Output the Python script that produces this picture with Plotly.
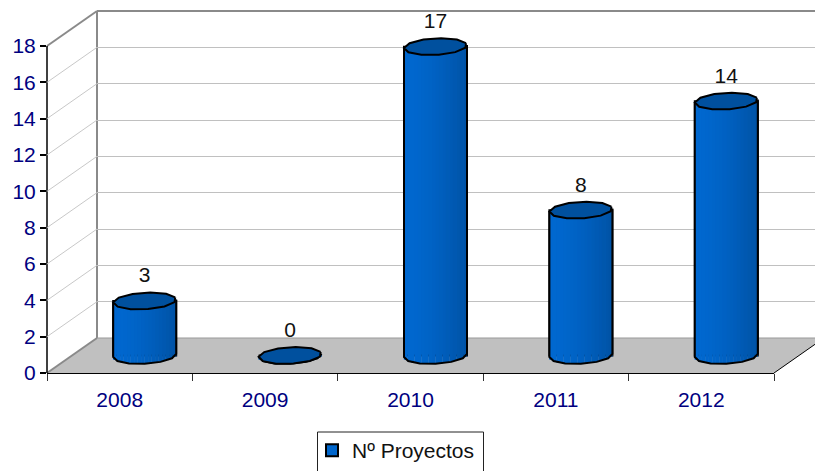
import math
import plotly.graph_objects as go

# ---- data ----
years = ["2008", "2009", "2010", "2011", "2012"]
proyectos = [3, 0, 17, 8, 14]
y_ticks = [0, 2, 4, 6, 8, 10, 12, 14, 16, 18]
series_name = "Nº Proyectos"

# ---- layout helpers ----
W, H = 815, 471
X0, X1, Y0, Y1 = 47, 774, 373, 46      # front plane (px)
DX, DY = 50, 35                         # wall depth (px)
px = lambda v: v / W
py = lambda v: (H - v) / H
unit_x = (X1 - X0) / len(years)
unit_y = (Y0 - Y1) / 18
pos = list(range(len(years)))
Y_HEAD = 20                             # headroom so caps and labels above 18 still draw

shift_x = 25 / unit_x                   # bar axis sits mid-depth
base_y = 17.5 / unit_y
half_w = 31.5 / unit_x
half_h = 8.3 / unit_y
tilt = 1.6 / unit_y
label_gap = 5 / unit_y

fig = go.Figure()

# back wall grid: empty trace on its own axes
fig.add_trace(go.Scatter(x=[None], y=[None], xaxis="x", yaxis="y", showlegend=False, hoverinfo="skip"))

# main bar (carries the legend entry)
fig.add_trace(go.Bar(
    x=[p + shift_x for p in pos], y=proyectos, base=[base_y] * len(pos),
    width=2 * half_w, name=series_name, xaxis="x2", yaxis="y2", cliponaxis=False,
    marker=dict(color="#0066CC", line=dict(color="#000000", width=2)),
    showlegend=True,
))

# cylinder shading: vertical strips
N = 18
for i in range(N):
    u = -1 + (2 * i + 1) / N
    t = (i + 0.5) / N
    g = round(104 - 22 * t ** 1.6)
    b = round(208 - 44 * t ** 1.6)
    arc = half_h * math.sqrt(max(0, 1 - u * u))
    lift = tilt * u
    bases = [base_y - arc + lift for _ in pos]
    fig.add_trace(go.Bar(
        x=[p + shift_x + u * half_w for p in pos],
        y=[v + arc for v in proyectos], base=bases,
        width=2 * half_w / N * 1.08, xaxis="x2", yaxis="y2", cliponaxis=False,
        marker=dict(color=f"rgb(0,{g},{b})", line=dict(width=0)),
        showlegend=False, hoverinfo="skip",
    ))

# outlines and caps
K = 11
angles = [2 * math.pi * k / K + 0.25 for k in range(K + 1)]
for p, v in zip(pos, proyectos):
    cx = p + shift_x
    cy = v + base_y
    lower = [math.pi + math.pi * k / 6 for k in range(7)]
    sx = [cx - half_w] + [cx + half_w * math.cos(a) for a in lower] + [cx + half_w]
    sy = [cy - tilt] + [base_y + half_h * math.sin(a) + tilt * math.cos(a) for a in lower] + [cy + tilt]
    fig.add_trace(go.Scatter(
        x=sx, y=sy, mode="lines", xaxis="x2", yaxis="y2", cliponaxis=False,
        line=dict(color="#000000", width=2), showlegend=False, hoverinfo="skip",
    ))
    fig.add_trace(go.Scatter(
        x=[cx + half_w * math.cos(a) for a in angles],
        y=[cy + half_h * math.sin(a) + tilt * math.cos(a) for a in angles],
        mode="lines", fill="toself", fillcolor="#00509E", xaxis="x2", yaxis="y2", cliponaxis=False,
        line=dict(color="#000000", width=2), showlegend=False, hoverinfo="skip",
    ))

# value labels
fig.add_trace(go.Scatter(
    x=[p + shift_x for p in pos], y=[v + base_y + half_h + label_gap for v in proyectos],
    mode="text", text=[str(v) for v in proyectos], textposition="top center",
    textfont=dict(family="Liberation Sans", size=21, color="#111111"),
    xaxis="x2", yaxis="y2", cliponaxis=False, showlegend=False, hoverinfo="skip",
))

GREY = "#8a8a8a"
def seg(x0, y0, x1, y1, color=GREY, width=2):
    return dict(type="line", xref="paper", yref="paper", x0=px(x0), y0=py(y0), x1=px(x1), y1=py(y1),
                line=dict(color=color, width=width), layer="below")

shapes = [
    dict(type="path", xref="paper", yref="paper", layer="below", fillcolor="#C0C0C0",
         line=dict(width=0),
         path=f"M {px(X0)} {py(Y0)} L {px(X0 + DX)} {py(Y0 - DY)} L {px(X1 + DX)} {py(Y0 - DY)} L {px(X1)} {py(Y0)} Z"),
    seg(X0 + DX, Y1 - DY, X0 + DX, Y0 - DY),
    seg(X0 + DX, Y1 - DY, W, Y1 - DY),
    seg(X0, Y1, X0 + DX, Y1 - DY),
    seg(X0, Y0, X0 + DX, Y0 - DY),
    seg(X0 + DX, Y0 - DY, W, Y0 - DY, "#999999", 1),
    seg(X1, Y0, X1 + DX, Y0 - DY, "#000000", 1),
    seg(X0, Y0, X0, Y1, "#000000", 1.5),
    dict(type="path", xref="paper", yref="paper", layer="below",
         line=dict(color="#222222", width=1),
         path=f"M {px(317.5)} {py(471)} L {px(317.5)} {py(432)} L {px(483.5)} {py(432)} L {px(483.5)} {py(471)}"),
]
for v in y_ticks[1:-1]:
    s = Y0 - v * unit_y
    shapes.append(seg(X0, s, X0 + DX, s - DY, "#c8c8c8", 1))

fig.update_layout(
    width=W, height=H, autosize=False,
    margin=dict(l=0, r=0, t=0, b=0, autoexpand=False),
    paper_bgcolor="#FFFFFF", plot_bgcolor="rgba(0,0,0,0)",
    barmode="overlay", shapes=shapes,
    font=dict(family="Liberation Sans", size=21, color="#000080"),
    xaxis=dict(domain=[px(X0 + DX), 1], range=[0, 1], visible=False),
    yaxis=dict(domain=[py(Y0 - DY), py(Y1 - DY)], range=[0, 18], anchor="x",
               tickvals=y_ticks[1:-1], showgrid=True, gridcolor="#c0c0c0", gridwidth=1,
               showticklabels=False, ticks="", showline=False, zeroline=False),
    xaxis2=dict(domain=[px(X0), px(X1)], range=[-0.5, len(years) - 0.5], anchor="y2",
                tickvals=pos, ticktext=years, ticks="", showgrid=False, zeroline=False,
                showline=True, linecolor="#000000", linewidth=1,
                tickfont=dict(family="Liberation Sans", size=21, color="#000080"),
                ticklabelstandoff=8,
                minor=dict(tickvals=[p - 0.5 for p in pos] + [len(years) - 0.5],
                           ticks="outside", ticklen=7, tickwidth=1, tickcolor="#333333", showgrid=False)),
    yaxis2=dict(domain=[py(Y0), py(Y0 - Y_HEAD * unit_y)], range=[0, Y_HEAD], anchor="x2", tickvals=y_ticks,
                showgrid=False, zeroline=False, showline=False,
                ticks="outside", ticklen=6, tickwidth=1.5, tickcolor="#000000",
                tickfont=dict(family="Liberation Sans", size=21, color="#000080")),
    legend=dict(x=px(312), y=py(430), xanchor="left", yanchor="top", bgcolor="rgba(0,0,0,0)",
                borderwidth=0, font=dict(family="Liberation Sans", size=21, color="#111111"),
                itemclick=False, itemdoubleclick=False),
    showlegend=True,
)

fig.write_html("out.html", post_script="document.body.style.margin='0';", config=dict(displayModeBar=False))
